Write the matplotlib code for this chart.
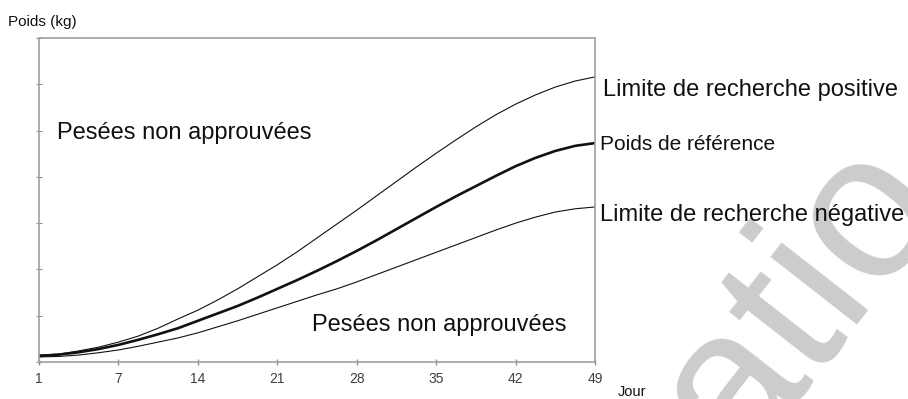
import numpy as np
import matplotlib
matplotlib.use("Agg")
import matplotlib.pyplot as plt

plt.rcParams['font.family'] = ['Liberation Sans', 'DejaVu Sans']

# Data (weight in arbitrary units)
tick_days = [1, 7, 14, 21, 28, 35, 42, 49]
tick_labels = ["1", "7", "14", "21", "28", "35", "42", "49"]
days = [1, 2.5, 4, 5.5, 7,
        8.75, 10.5, 12.25, 14,
        15.75, 17.5, 19.25, 21,
        22.75, 24.5, 26.25, 28,
        29.75, 31.5, 33.25, 35,
        36.75, 38.5, 40.25, 42,
        43.75, 45.5, 47.25, 49]
upper_limit = [0.15, 0.17, 0.24, 0.32, 0.43, 0.56, 0.73, 0.93, 1.12, 1.34, 1.58, 1.84,
               2.10, 2.38, 2.68, 2.98, 3.28, 3.59, 3.90, 4.21, 4.51, 4.80, 5.08, 5.34,
               5.57, 5.77, 5.94, 6.07, 6.16]
reference = [0.13, 0.16, 0.21, 0.28, 0.37, 0.48, 0.60, 0.73, 0.89, 1.05, 1.21, 1.39,
             1.58, 1.77, 1.97, 2.18, 2.40, 2.63, 2.87, 3.11, 3.35, 3.58, 3.80, 4.02,
             4.23, 4.41, 4.56, 4.67, 4.73]
lower_limit = [0.11, 0.12, 0.15, 0.20, 0.26, 0.34, 0.43, 0.52, 0.63, 0.76, 0.89, 1.03,
               1.17, 1.31, 1.45, 1.58, 1.73, 1.89, 2.05, 2.21, 2.37, 2.53, 2.69, 2.85,
               3.00, 3.13, 3.24, 3.31, 3.35]
y_ticks = [0, 1, 2, 3, 4, 5, 6, 7]

fig = plt.figure(figsize=(9.08, 3.99), dpi=100)
ax = fig.add_axes([39/908, 1-362/399, (595-39)/908, (362-38)/399])

# the tick labels are evenly spaced on the chart
slots = np.arange(len(tick_days))
xpos = np.interp(days, tick_days, slots)

ax.plot(xpos, upper_limit, color='#111111', lw=0.8)
ax.plot(xpos, reference, color='#111111', lw=1.9)
ax.plot(xpos, lower_limit, color='#111111', lw=0.8)

ax.set_xlim(slots[0], slots[-1])
ax.set_ylim(0, 7)
ax.set_xticks(slots)
ax.set_xticklabels(tick_labels)
ax.set_yticks(y_ticks)
ax.set_yticklabels([])
for s in ax.spines.values():
    s.set_color('#a0a0a0')
    s.set_linewidth(1.2)
ax.tick_params(axis='x', direction='inout', length=5, width=1, color='#909090',
               labelsize=10, labelcolor='#404040', pad=5)
ax.tick_params(axis='y', direction='inout', length=4, width=0.8, color='#909090')

# annotations
fig.text(8/908, 1-22/399, "Poids (kg)", fontsize=11, va='center', ha='left', color='#111111')
fig.text(618/908, 1-392/399, "Jour", fontsize=10.5, va='center', ha='left', color='#111111')

fig.text(57/908, 1-133/399, "Pesées non approuvées", fontsize=17, va='center', ha='left', color='#111111')
fig.text(312/908, 1-325/399, "Pesées non approuvées", fontsize=17, va='center', ha='left', color='#111111')
fig.text(603/908, 1-90/399, "Limite de recherche positive", fontsize=17, va='center', ha='left', color='#111111')
fig.text(600/908, 1-144/399, "Poids de référence", fontsize=15, va='center', ha='left', color='#111111')
fig.text(600/908, 1-215/399, "Limite de recherche négative", fontsize=17, va='center', ha='left', color='#111111')

# watermark
fig.text(800/908, 1-300/399, "atio", fontsize=150, rotation=52, color='#cccccc',
         ha='center', va='center', rotation_mode='anchor', zorder=-1)

fig.savefig("out.png", dpi=100)
